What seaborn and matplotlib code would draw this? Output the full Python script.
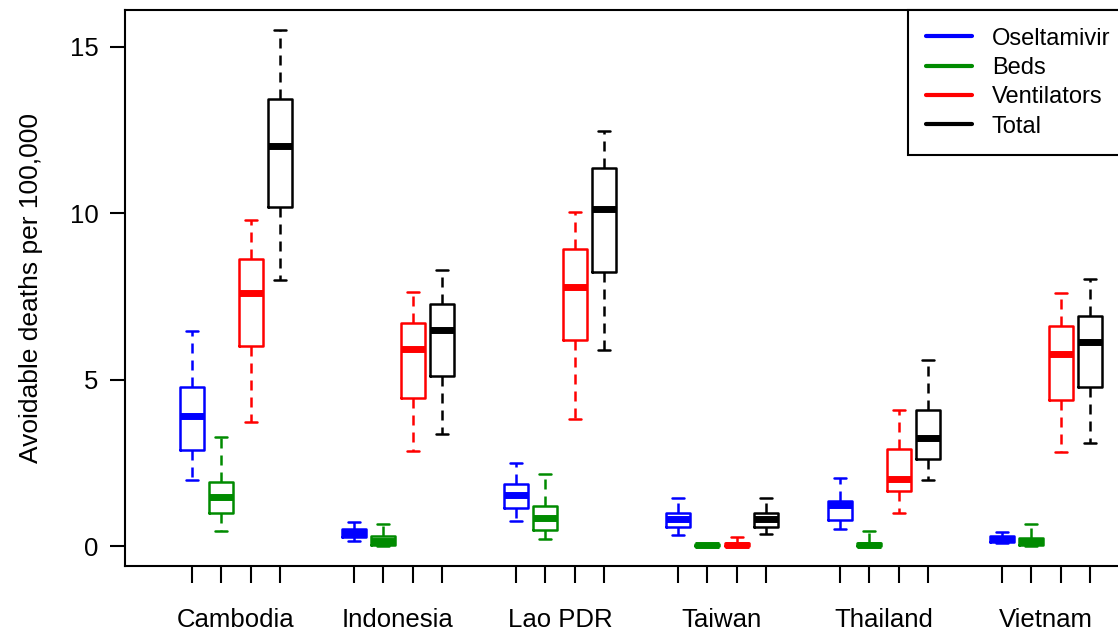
import numpy as np
import pandas as pd
import matplotlib
matplotlib.use("Agg")
import matplotlib.pyplot as plt
import seaborn as sns
from matplotlib.lines import Line2D

# 数据：每个箱子的五数概括 [最小, Q1, 中位数, Q3, 最大]
countries = ["Cambodia", "Indonesia", "Lao PDR", "Taiwan", "Thailand", "Vietnam"]
resources = ["Oseltamivir", "Beds", "Ventilators", "Total"]

oseltamivir = [
    [1.98, 2.88, 3.90, 4.77, 6.46],
    [0.15, 0.27, 0.39, 0.51, 0.72],
    [0.75, 1.14, 1.53, 1.86, 2.49],
    [0.34, 0.57, 0.81, 0.99, 1.44],
    [0.51, 0.78, 1.22, 1.36, 2.03],
    [0.09, 0.12, 0.21, 0.31, 0.42],
]
beds = [
    [0.45, 0.99, 1.47, 1.92, 3.27],
    [0.00, 0.03, 0.15, 0.30, 0.66],
    [0.21, 0.48, 0.84, 1.20, 2.16],
    [0.00, 0.00, 0.02, 0.06, 0.06],
    [0.00, 0.00, 0.03, 0.09, 0.45],
    [0.00, 0.03, 0.12, 0.23, 0.67],
]
ventilators = [
    [3.72, 6.00, 7.60, 8.63, 9.79],
    [2.85, 4.44, 5.92, 6.69, 7.62],
    [3.83, 6.20, 7.78, 8.93, 10.05],
    [0.00, 0.00, 0.03, 0.08, 0.27],
    [0.99, 1.65, 2.01, 2.91, 4.08],
    [2.82, 4.38, 5.77, 6.62, 7.60],
]
total = [
    [8.00, 10.18, 12.02, 13.43, 15.50],
    [3.38, 5.10, 6.50, 7.26, 8.29],
    [5.89, 8.24, 10.12, 11.35, 12.46],
    [0.36, 0.57, 0.81, 0.99, 1.44],
    [1.98, 2.60, 3.25, 4.08, 5.58],
    [3.09, 4.77, 6.13, 6.90, 8.03],
]

colors = {"Oseltamivir": "#0000FF", "Beds": "#008B00",
          "Ventilators": "#FF0000", "Total": "#000000"}

# 长表
rows = []
for res, series in zip(resources, [oseltamivir, beds, ventilators, total]):
    for c, vals in zip(countries, series):
        for v in vals:
            rows.append({"country": c, "resource": res, "value": v})
df = pd.DataFrame(rows)

sns.set_theme(style="ticks", rc={
    "text.color": "black", "axes.labelcolor": "black",
    "xtick.color": "black", "ytick.color": "black",
    "axes.edgecolor": "black",
})
plt.rcParams['font.family'] = ['Liberation Sans', 'DejaVu Sans']

fig = plt.figure(figsize=(11.18, 6.34), dpi=100)
ax = fig.add_axes([125 / 1118, 1 - 566 / 634, 1000 / 1118, 556 / 634])

box_w = 0.724
sns.boxplot(
    data=df, x="country", y="value", hue="resource",
    order=countries, hue_order=resources, palette=colors,
    whis=(0, 100), width=box_w, gap=0.18, fill=False,
    linewidth=1.8, legend=False, ax=ax,
    medianprops={"linewidth": 5},
    whiskerprops={"linestyle": (0, (4, 2.8))},
)

# x 轴：每个箱子一个刻度，国家名放在组中心
step = box_w / 4
offsets = (np.arange(4) - 1.5) * step
pos = [g + o for g in range(len(countries)) for o in offsets]
ax.set_xticks(pos, labels=[""] * len(pos))
ax.set_xticks(range(len(countries)), labels=countries, minor=True)
ax.tick_params(axis="x", which="major", length=12, width=1.5)
ax.tick_params(axis="x", which="minor", length=0, pad=30, labelsize=18.5)
ax.tick_params(axis="y", length=11, width=1.5, pad=8, labelsize=18.5)

ax.set_yticks([0, 5, 10, 15])
ax.set_xlim(-0.685, 5.488)
ax.set_ylim(-0.601, 16.11)
ax.set_xlabel("")
ax.set_ylabel("Avoidable deaths per 100,000", fontsize=19, labelpad=19)

for s in ax.spines.values():
    s.set_visible(True)
    s.set_linewidth(1.5)
    s.set_color("black")

handles = [Line2D([0], [0], color=colors[r], lw=3) for r in resources]
leg = ax.legend(handles, resources, loc="upper left",
                bbox_to_anchor=(0.783, 1.0), borderaxespad=0,
                fontsize=17, frameon=True, fancybox=False,
                edgecolor="black", framealpha=1,
                borderpad=0.75, handlelength=1.95, handletextpad=0.85,
                labelspacing=0.31)
leg.get_frame().set_linewidth(1.5)

fig.savefig("out.png", dpi=100)
